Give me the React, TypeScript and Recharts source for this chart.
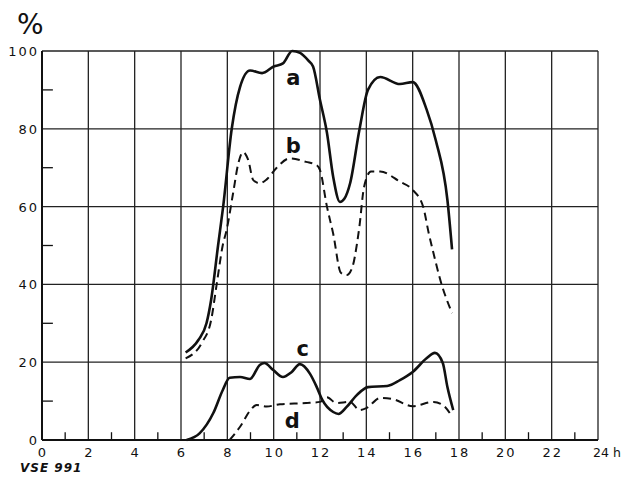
import React from 'react';
import {
  LineChart,
  Line,
  XAxis,
  YAxis,
  CartesianGrid,
  ReferenceLine,
  ReferenceDot,
} from 'recharts';

// hour ticks, percent ticks, minor ticks
const hourTicks = [0, 2, 4, 6, 8, 10, 12, 14, 16, 18, 20, 22, 24];
const percentTicks = [0, 20, 40, 60, 80, 100];
const minorHours = [1, 3, 5, 7, 9, 11, 13, 15, 17, 19, 21, 23];
const minorPercents = [10, 30, 50, 70, 90];

// curve a (solid)
const curveA = [
  { h: 6.2, v: 22.5 }, { h: 6.75, v: 25.7 }, { h: 7.1, v: 30 }, { h: 7.3, v: 36 },
  { h: 7.6, v: 50 }, { h: 7.82, v: 60 }, { h: 8.19, v: 80 }, { h: 8.55, v: 90.8 },
  { h: 8.98, v: 95 }, { h: 9.5, v: 94.3 }, { h: 10.0, v: 96 }, { h: 10.4, v: 96.8 },
  { h: 10.8, v: 100 }, { h: 11.14, v: 99.5 }, { h: 11.5, v: 97.5 }, { h: 11.7, v: 96 },
  { h: 12.0, v: 87.4 }, { h: 12.3, v: 79 }, { h: 12.57, v: 67.6 }, { h: 12.86, v: 61.2 },
  { h: 13.05, v: 62 }, { h: 13.3, v: 66 }, { h: 13.7, v: 79.7 }, { h: 14.07, v: 90 },
  { h: 14.6, v: 93.3 }, { h: 15.45, v: 91.5 }, { h: 16.0, v: 92 }, { h: 16.6, v: 85 },
  { h: 17.0, v: 77 }, { h: 17.5, v: 61.7 }, { h: 17.7, v: 49 },
];

// curve b (dashed)
const curveB = [
  { h: 6.2, v: 21 }, { h: 6.9, v: 25 }, { h: 7.3, v: 30.8 }, { h: 7.54, v: 40 },
  { h: 7.8, v: 50 }, { h: 7.97, v: 54 }, { h: 8.25, v: 63.5 }, { h: 8.47, v: 71 },
  { h: 8.68, v: 74 }, { h: 8.9, v: 72 }, { h: 9.12, v: 66.8 }, { h: 9.4, v: 66 },
  { h: 9.7, v: 67 }, { h: 10.13, v: 70 }, { h: 10.7, v: 72.4 }, { h: 11.4, v: 71.5 },
  { h: 11.85, v: 70.7 }, { h: 12.0, v: 69.4 }, { h: 12.3, v: 60 }, { h: 12.57, v: 53 },
  { h: 12.9, v: 43 }, { h: 13.15, v: 42.4 }, { h: 13.4, v: 44.5 }, { h: 13.6, v: 50.6 },
  { h: 13.7, v: 54.8 }, { h: 13.9, v: 65 }, { h: 14.2, v: 69 }, { h: 14.6, v: 69 },
  { h: 15.45, v: 66.4 }, { h: 16.0, v: 64.3 }, { h: 16.45, v: 60 }, { h: 16.7, v: 53 },
  { h: 16.9, v: 48 }, { h: 17.2, v: 41 }, { h: 17.7, v: 32.6 },
];

// curve c (solid)
const curveC = [
  { h: 6.24, v: 0 }, { h: 6.8, v: 1.7 }, { h: 7.4, v: 7 }, { h: 7.8, v: 12.8 },
  { h: 8.1, v: 16 }, { h: 8.55, v: 16.2 }, { h: 8.98, v: 15.7 }, { h: 9.4, v: 19.3 },
  { h: 9.6, v: 19.8 }, { h: 9.98, v: 18 }, { h: 10.4, v: 16.2 }, { h: 10.78, v: 17.5 },
  { h: 11.13, v: 19.5 }, { h: 11.57, v: 17 }, { h: 11.86, v: 13.6 }, { h: 12.1, v: 10.3 },
  { h: 12.57, v: 7.2 }, { h: 12.8, v: 6.7 }, { h: 13.15, v: 8.5 }, { h: 13.6, v: 11.6 },
  { h: 14.07, v: 13.6 }, { h: 14.9, v: 13.9 }, { h: 15.45, v: 15.4 }, { h: 16.0, v: 17.5 },
  { h: 16.6, v: 21 }, { h: 16.96, v: 22.4 }, { h: 17.3, v: 19.8 }, { h: 17.5, v: 13.6 },
  { h: 17.75, v: 7.7 },
];

// curve d (dashed)
const curveD = [
  { h: 8.1, v: 0 }, { h: 8.55, v: 3.4 }, { h: 9.0, v: 7.7 }, { h: 9.27, v: 9 },
  { h: 9.7, v: 8.6 }, { h: 10.27, v: 9.2 }, { h: 11.4, v: 9.5 }, { h: 12.0, v: 9.8 },
  { h: 12.3, v: 11 }, { h: 12.7, v: 9.5 }, { h: 13.3, v: 9.8 }, { h: 13.7, v: 7.7 },
  { h: 14.0, v: 8.2 }, { h: 14.6, v: 10.8 }, { h: 15.15, v: 10.5 }, { h: 16.0, v: 8.7 },
  { h: 16.9, v: 9.8 }, { h: 17.3, v: 9 }, { h: 17.7, v: 6 },
];

// curve name labels
const curveLabels = [
  { name: 'a', h: 10.85, v: 93 },
  { name: 'b', h: 10.85, v: 75.5 },
  { name: 'c', h: 11.25, v: 23.5 },
  { name: 'd', h: 10.8, v: 5 },
];

const INK = '#111';
const tickFont = { fontFamily: 'DejaVu Sans', fontSize: 13, fill: INK, letterSpacing: 2 };

const HourTick = (props: any) => {
  const { x, y, payload } = props;
  if (payload.value === 24) {
    return (
      <text x={x - 5} y={y + 9} textAnchor="start" fontFamily="DejaVu Sans" fontSize={12.5} fill={INK}>
        24 h
      </text>
    );
  }
  return (
    <text x={x + 1} y={y + 9} textAnchor="middle" {...tickFont}>
      {payload.value}
    </text>
  );
};

const PercentTick = (props: any) => {
  const { y, payload } = props;
  return (
    <text x={39} y={y + 5} textAnchor="end" {...tickFont}>
      {payload.value}
    </text>
  );
};

const CurveName = (name: string) => (props: any) => (
  <text
    x={props.cx}
    y={props.cy + 7}
    textAnchor="middle"
    fontFamily="DejaVu Sans"
    fontWeight="bold"
    fontSize={21}
    fill={INK}
  >
    {name}
  </text>
);

export default function App() {
  return (
    <div style={{ position: 'absolute', left: 0, top: 0, width: 624, height: 480, background: '#fff' }}>
      <div
        style={{
          position: 'absolute',
          left: 17,
          top: 8,
          fontFamily: 'DejaVu Sans',
          fontSize: 28,
          color: INK,
        }}
      >
        %
      </div>
      <div
        style={{
          position: 'absolute',
          left: 20,
          top: 461,
          fontFamily: 'DejaVu Sans',
          fontStyle: 'italic',
          fontWeight: 'bold',
          fontSize: 12,
          letterSpacing: 1,
          color: INK,
        }}
      >
        VSE 991
      </div>
      <LineChart
        width={624}
        height={480}
        margin={{ top: 51, right: 26, bottom: 10, left: 0 }}
      >
        <CartesianGrid stroke="#222" strokeWidth={1.3} />
        <XAxis
          dataKey="h"
          type="number"
          domain={[0, 24]}
          ticks={hourTicks}
          tickLine={false}
          axisLine={{ stroke: INK, strokeWidth: 2 }}
          height={30}
          tick={<HourTick />}
          allowDuplicatedCategory={false}
        />
        <YAxis
          type="number"
          domain={[0, 100]}
          ticks={percentTicks}
          tickLine={false}
          axisLine={{ stroke: INK, strokeWidth: 2 }}
          width={42}
          tick={<PercentTick />}
        />
        {minorHours.map((h) => (
          <ReferenceLine
            key={'mh' + h}
            segment={[{ x: h, y: 0 }, { x: h, y: 2 }]}
            stroke={INK}
            strokeWidth={1.3}
          />
        ))}
        {minorPercents.map((v) => (
          <ReferenceLine
            key={'mp' + v}
            segment={[{ x: 0, y: v }, { x: 0.47, y: v }]}
            stroke={INK}
            strokeWidth={1.3}
          />
        ))}
        <Line data={curveA} dataKey="v" type="monotone" stroke={INK} strokeWidth={2.6} dot={false} isAnimationActive={false} />
        <Line data={curveB} dataKey="v" type="monotone" stroke={INK} strokeWidth={2} strokeDasharray="8 5" dot={false} isAnimationActive={false} />
        <Line data={curveC} dataKey="v" type="monotone" stroke={INK} strokeWidth={2.6} dot={false} isAnimationActive={false} />
        <Line data={curveD} dataKey="v" type="monotone" stroke={INK} strokeWidth={2} strokeDasharray="8 5" dot={false} isAnimationActive={false} />
        {curveLabels.map((l) => (
          <ReferenceDot key={l.name} x={l.h} y={l.v} r={0} shape={CurveName(l.name)} />
        ))}
      </LineChart>
    </div>
  );
}
